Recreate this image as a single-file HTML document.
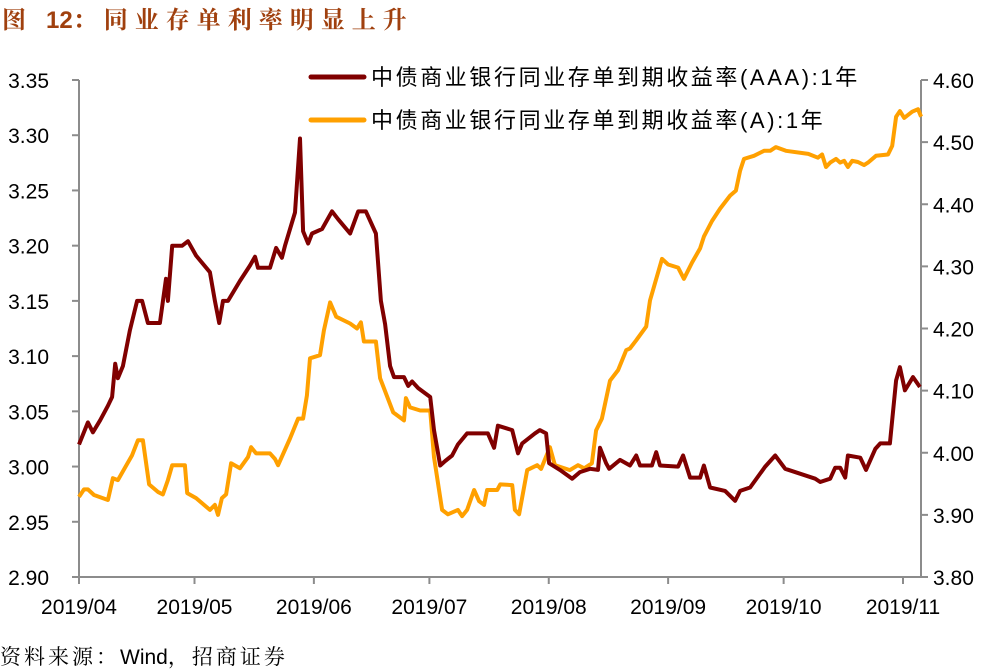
<!DOCTYPE html>
<html><head><meta charset="utf-8">
<style>
html,body{margin:0;padding:0;background:#fff;}
body{width:997px;height:672px;overflow:hidden;position:relative;}
#title{position:absolute;left:2px;top:0px;font:bold 24px "Liberation Serif","Noto Serif CJK SC",serif;color:#a0400e;letter-spacing:7px;white-space:nowrap;}
#title .n{font-family:"Liberation Sans",sans-serif;letter-spacing:0;}
#src{position:absolute;left:0;top:641px;font:21px "Liberation Sans","Noto Serif CJK SC",serif;color:#000;letter-spacing:3px;white-space:nowrap;}
#src .n{letter-spacing:0;}
svg{position:absolute;left:0;top:0;}
text{font-family:"Liberation Sans","Noto Sans CJK SC",sans-serif;fill:#000;}
</style></head><body>
<div id="title">图 <span class="n">12</span>：同业存单利率明显上升</div>
<div id="src">资料来源：<span class="n">Wind</span>，招商证券</div>
<svg id="chart" width="997" height="672"></svg>
<script>
const leftTicks=["2.90","2.95","3.00","3.05","3.10","3.15","3.20","3.25","3.30","3.35"];
const rightTicks=["3.80","3.90","4.00","4.10","4.20","4.30","4.40","4.50","4.60"];
const monthLabels=["2019/04","2019/05","2019/06","2019/07","2019/08","2019/09","2019/10","2019/11"];
const monthDays=[0,30,61,91,122,153,183,214];
const aaaDays=[0,2.3,3.6,5.5,7.5,8.6,9.4,10.1,11.4,13.2,15.1,16.4,17.9,21.0,22.6,23.1,24.2,26.8,28.3,30.4,34.0,35.3,36.4,37.4,38.7,41.8,44.4,45.7,46.5,49.6,51.2,52.7,53.5,56.1,57.4,58.2,59.5,60.5,63.1,65.7,67.3,70.4,72.5,74.5,77.1,78.4,79.5,80.8,81.8,84.4,85.5,86.5,88.1,91.2,92.2,93.8,95.1,96.9,98.4,100.8,106.2,107.8,108.8,112.5,114.0,115.1,118.4,119.7,121.3,122.1,124.9,128.1,130.1,132.7,134.8,135.3,136.9,137.7,140.5,143.1,144.7,145.7,148.8,149.9,150.9,155.6,156.9,158.7,161.3,162.3,163.9,167.8,170.4,171.7,174.3,178.2,180.8,183.4,191.2,192.5,195.1,196.4,197.7,199.0,199.7,202.9,204.4,206.8,208.1,210.6,212.2,213.2,214.5,216.6,218.4];
const aaaVals=[3.020,3.040,3.031,3.042,3.055,3.063,3.093,3.080,3.091,3.123,3.150,3.150,3.130,3.130,3.170,3.150,3.200,3.200,3.204,3.191,3.176,3.150,3.130,3.150,3.150,3.168,3.182,3.190,3.180,3.180,3.198,3.189,3.200,3.230,3.297,3.213,3.202,3.211,3.215,3.231,3.224,3.211,3.231,3.231,3.211,3.150,3.129,3.091,3.081,3.081,3.073,3.077,3.071,3.063,3.033,3.001,3.005,3.010,3.020,3.030,3.030,3.017,3.037,3.033,3.012,3.021,3.030,3.033,3.030,3.003,2.997,2.989,2.995,2.998,2.997,3.017,3.003,2.998,3.006,3.001,3.010,3.001,3.001,3.013,3.001,3.000,3.010,2.990,2.990,3.001,2.981,2.978,2.969,2.978,2.981,3.000,3.010,2.998,2.989,2.986,2.989,2.999,2.999,2.990,3.010,3.008,2.997,3.016,3.021,3.021,3.078,3.090,3.069,3.081,3.072];
const aDays=[0,1.3,2.3,3.9,7.5,8.8,10.1,13.8,15.3,16.6,18.2,20.5,21.8,23.1,24.2,27.5,28.1,30.4,34.0,35.3,36.1,37.1,38.2,39.5,41.8,43.9,44.7,46.0,49.6,50.9,51.7,54.8,56.9,58.2,59.2,60.0,62.6,63.6,65.2,66.8,70.4,72.2,73.2,74.0,77.1,78.2,81.6,84.4,84.9,86.0,88.6,91.2,92.2,94.3,95.8,98.4,99.5,100.8,102.6,103.9,105.2,106.0,108.6,109.4,112.5,113.2,114.3,116.4,119.0,120.0,122.3,123.6,127.5,129.6,131.2,133.2,134.3,135.8,137.9,140.0,142.1,143.1,144.7,147.3,148.3,149.4,151.4,153.0,155.6,157.1,159.2,161.3,162.3,164.4,166.5,169.1,170.6,171.7,172.7,175.3,177.9,179.5,181.0,183.6,189.4,191.9,193.0,194.0,195.1,196.6,197.7,198.7,199.7,200.8,202.3,203.9,204.9,207.0,210.1,211.2,212.2,213.2,214.3,216.4,217.9,218.7];
const aVals=[3.929,3.941,3.941,3.932,3.924,3.959,3.956,3.996,4.020,4.020,3.949,3.937,3.933,3.956,3.980,3.980,3.935,3.927,3.908,3.916,3.900,3.927,3.933,3.983,3.975,3.993,4.009,3.999,3.999,3.990,3.980,4.023,4.055,4.055,4.092,4.152,4.157,4.197,4.242,4.219,4.208,4.200,4.210,4.179,4.179,4.120,4.065,4.052,4.088,4.073,4.068,4.068,3.993,3.908,3.901,3.908,3.898,3.908,3.940,3.922,3.916,3.940,3.940,3.949,3.948,3.908,3.901,3.972,3.980,3.974,4.009,3.980,3.972,3.980,3.975,3.983,4.036,4.055,4.116,4.133,4.165,4.168,4.181,4.203,4.245,4.269,4.312,4.303,4.298,4.280,4.306,4.329,4.348,4.373,4.393,4.414,4.422,4.454,4.473,4.478,4.486,4.486,4.492,4.486,4.481,4.475,4.480,4.460,4.467,4.473,4.467,4.470,4.460,4.470,4.468,4.463,4.467,4.478,4.480,4.494,4.541,4.550,4.539,4.549,4.553,4.541];

const X0=79,X1=921,Y0=80,Y1=577;
const xs=d=>X0+d*(903-X0)/214;
const yl=v=>Y1-(v-2.90)/(3.35-2.90)*(Y1-Y0);
const yr=v=>Y1-(v-3.80)/(4.60-3.80)*(Y1-Y0);
const svg=document.getElementById('chart');
const NS='http://www.w3.org/2000/svg';
function mk(tag,attrs){const e=document.createElementNS(NS,tag);for(const k in attrs)e.setAttribute(k,attrs[k]);svg.appendChild(e);return e;}
const ax='#8c8c8c';
let e;
e=mk('line',{x1:X0,y1:Y0,x2:X0,y2:Y1,stroke:ax,'stroke-width':2});


e=mk('line',{x1:X1,y1:Y0,x2:X1,y2:Y1,stroke:ax,'stroke-width':2});


e=mk('line',{x1:72,y1:Y1,x2:X1+7,y2:Y1,stroke:ax,'stroke-width':2});


leftTicks.forEach(t=>{const y=yl(parseFloat(t));
  mk('line',{x1:72,y1:y,x2:X0,y2:y,stroke:ax,'stroke-width':2});
  e=mk('text',{x:49,y:y+8,'text-anchor':'end','font-size':21});e.textContent=t;
  
  });
rightTicks.forEach(t=>{const y=yr(parseFloat(t));
  mk('line',{x1:X1,y1:y,x2:X1+7,y2:y,stroke:ax,'stroke-width':2});
  e=mk('text',{x:933,y:y+8,'text-anchor':'start','font-size':21});e.textContent=t;
  
  });
monthLabels.forEach((t,i)=>{const x=xs(monthDays[i]);
  mk('line',{x1:x,y1:Y1,x2:x,y2:Y1+7,stroke:ax,'stroke-width':2});
  e=mk('text',{x:x,y:614,'text-anchor':'middle','font-size':21});e.textContent=t;
  
  });
function path(days,vals,yf){return days.map((d,i)=>(i?'L':'M')+xs(d).toFixed(1)+','+yf(vals[i]).toFixed(1)).join('');}
e=mk('path',{d:path(aDays,aVals,yr),fill:'none',stroke:'#ffa000','stroke-width':4,'stroke-linejoin':'round'});


e=mk('path',{d:path(aaaDays,aaaVals,yl),fill:'none',stroke:'#800000','stroke-width':4,'stroke-linejoin':'round'});


const legend=[["#800000","中债商业银行同业存单到期收益率(AAA):1年",77],["#ffa000","中债商业银行同业存单到期收益率(A):1年",120]];
legend.forEach(l=>{
  e=mk('line',{x1:311,y1:l[2],x2:364,y2:l[2],stroke:l[0],'stroke-width':5,'stroke-linecap':'round'});
  
  
  e=mk('text',{x:371,y:l[2]+8,'font-size':22,'letter-spacing':2.6});e.textContent=l[1];
  
  });
</script>
</body></html>
